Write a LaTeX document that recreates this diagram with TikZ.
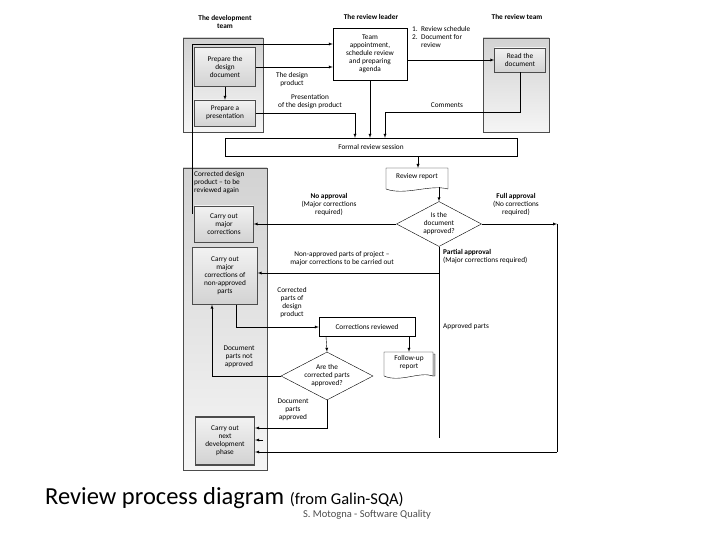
\documentclass[tikz,border=0pt]{standalone}
\usepackage{fontspec}
\setmainfont{Carlito}
\usetikzlibrary{arrows,shapes.geometric,positioning}
\begin{document}
\begin{tikzpicture}[x=1pt,y=-1pt,>=latex,font=\fontsize{7.3}{8}\selectfont]
		\tikzstyle{Lane}=[draw=black!70,top color=gray!35,bottom color=gray!8]
		\tikzstyle{Task}=[draw=black!70,top color=gray!10,bottom color=gray!35,align=center,inner sep=1pt]
		\tikzstyle{Plain}=[draw,fill=white,align=center,inner sep=1pt]
		\tikzstyle{Ask}=[draw,diamond,aspect=1.9,fill=white,align=center,inner sep=0pt]
		\tikzstyle{Note}=[align=center,inner sep=0pt]
		\tikzstyle{Head}=[align=center,font=\fontsize{7.3}{8}\selectfont\bfseries]
		\useasboundingbox (0,0) rectangle (720,540);
		% lanes
		\draw[Lane] (183,38) rectangle (263,132);
		\draw[Lane] (483,38) rectangle (549,132);
		\draw[Lane] (183,168) rectangle (267,470);
		\node[Head] (hdev) at (225,22) {The development\\team};
		\node[Head] (hlead) at (371,17) {The review leader};
		\node[Head] (hteam) at (517,17) {The review team};
		% boxes
		\node[Plain,minimum width=74,minimum height=52] (appoint) at (370,54) {Team\\appointment,\\schedule review\\and preparing\\agenda};
		\node[Task,minimum width=51,minimum height=24] (read) at (520,60) {Read the\\document};
		\node[Task,minimum width=61,minimum height=39] (prep) at (225,67) {Prepare the\\design\\document};
		\node[Task,minimum width=61,minimum height=26] (pres) at (225,113) {Prepare a\\presentation};
		\node[Plain,minimum width=292,minimum height=18] (formal) at (371,147) {Formal review session};
		\node[minimum width=62,minimum height=22,inner sep=0pt] (report) at (417,179) {};
		\draw[fill=white] (386,168) -- (448,168) -- (448,189) .. controls (430,184) and (405,196) .. (386,189) -- cycle;
		\node at (417,177) {Review report};
		\node[Ask,minimum width=85,minimum height=45] (isdoc) at (439,224) {Is the\\document\\approved?};
		\node[Task,minimum width=59,minimum height=36] (major) at (224,224) {Carry out\\major\\corrections};
		\node[Task,minimum width=65,minimum height=57] (nonapp) at (225,276) {Carry out\\major\\corrections of\\non-approved\\parts};
		\node[Plain,minimum width=96,minimum height=19] (revd) at (367,327) {Corrections reviewed};
		\node[Ask,minimum width=92,minimum height=48] (arecor) at (327,376) {Are the\\corrected parts\\approved?};
		\node[minimum width=49,minimum height=26,inner sep=0pt] (follow) at (409,365) {};
		\draw[fill=gray!50] (386,354) -- (435,354) -- (435,376) -- (433,376) -- cycle;
		\draw[fill=white] (384,352) -- (433,352) -- (433,376) .. controls (420,371) and (400,383) .. (384,376) -- cycle;
		\node[align=center] at (409,363) {Follow-up\\report};
		\node[Task,very thick,minimum width=59,minimum height=48] (phase) at (225,441) {Carry out\\next\\development\\phase};
		% connectors
		\draw[->] (prep) -- (pres);
		\draw[->] (192,214) -- (192,44) -- (appoint.west |- 0,44);
		\draw[->] (prep.east |- 0,67) -- (appoint.west |- 0,67);
		\draw[->] (pres.east) -- (355,113) -- (formal.north -| 355,0);
		\draw[->] (appoint.south) -- (formal.north -| appoint.south);
		\draw[->] (appoint.east |- read) -- (read.west);
		\draw[->] (read.south) -- (520,112) -- (385,112) -- (formal.north -| 385,0);
		\draw[->] (formal.south -| 418,0) -- (418,168);
		\draw[->] (439,187) -- (isdoc.north);
		\draw[->] (isdoc.west) -- (major.east);
		\draw[->] (isdoc.east) -- (557,224);
		\draw (557,224) -- (557,452);
		\draw[->] (557,452) -- (phase.east |- 0,452);
		\draw (isdoc.south) -- (439,438);
		\draw[->] (439,273) -- (nonapp.east |- 0,273);
		\draw[->] (nonapp.south -| 236,0) -- (236,327) -- (revd.west);
		\draw[->] (revd.south -| 326,0) -- (arecor.north);
		\draw[->] (revd.south -| 409,0) -- (follow.north);
		\draw[->] (arecor.west) -- (212,376) -- (nonapp.south -| 212,0);
		\draw[->] (arecor.south) -- (327,428) -- (phase.east |- 0,428);
		\draw[->] (263,440) -- (phase.east |- 0,440);
		% labels
		\node[Note,anchor=north west,align=left] (cordes) at (194,171) {Corrected design\\product -- to be\\reviewed again};
		\node[Note,anchor=north west,align=left] (sched) at (412,26) {1.~~Review schedule\\2.~~Document for\\\phantom{2.~~}review};
		\node[Note] (ldes) at (292,80) {The design\\product};
		\node[Note] (lpres) at (310,102) {Presentation\\of the design product};
		\node[Note] (lcom) at (447,105) {Comments};
		\node[Note] (lno) at (329,205) {\textbf{No approval}\\(Major corrections\\required)};
		\node[Note] (lfull) at (516,205) {\textbf{Full approval}\\(No corrections\\required)};
		\node[Note,anchor=west,align=left] (lpart) at (443,257) {\textbf{Partial approval}\\(Major corrections required)};
		\node[Note] (lnon) at (342,259) {Non-approved parts of project --\\major corrections to be carried out};
		\node[Note] (lcpd) at (292,303) {Corrected\\parts of\\design\\product};
		\node[Note,anchor=west] (lapp) at (443,327) {Approved parts};
		\node[Note] (lnot) at (239,357) {Document\\parts not\\approved};
		\node[Note] (lyes) at (293,410) {Document\\parts\\approved};
		% caption
		\node[anchor=base west,inner sep=0pt] (cap) at (45,504) {\fontsize{24.5}{26}\selectfont Review process diagram \fontsize{16.5}{17}\selectfont(from Galin-SQA)};
		\node[inner sep=0pt,text=black!70] (auth) at (367,515) {\fontsize{10.5}{11}\selectfont S. Motogna - Software Quality};
	\end{tikzpicture}
\end{document}
